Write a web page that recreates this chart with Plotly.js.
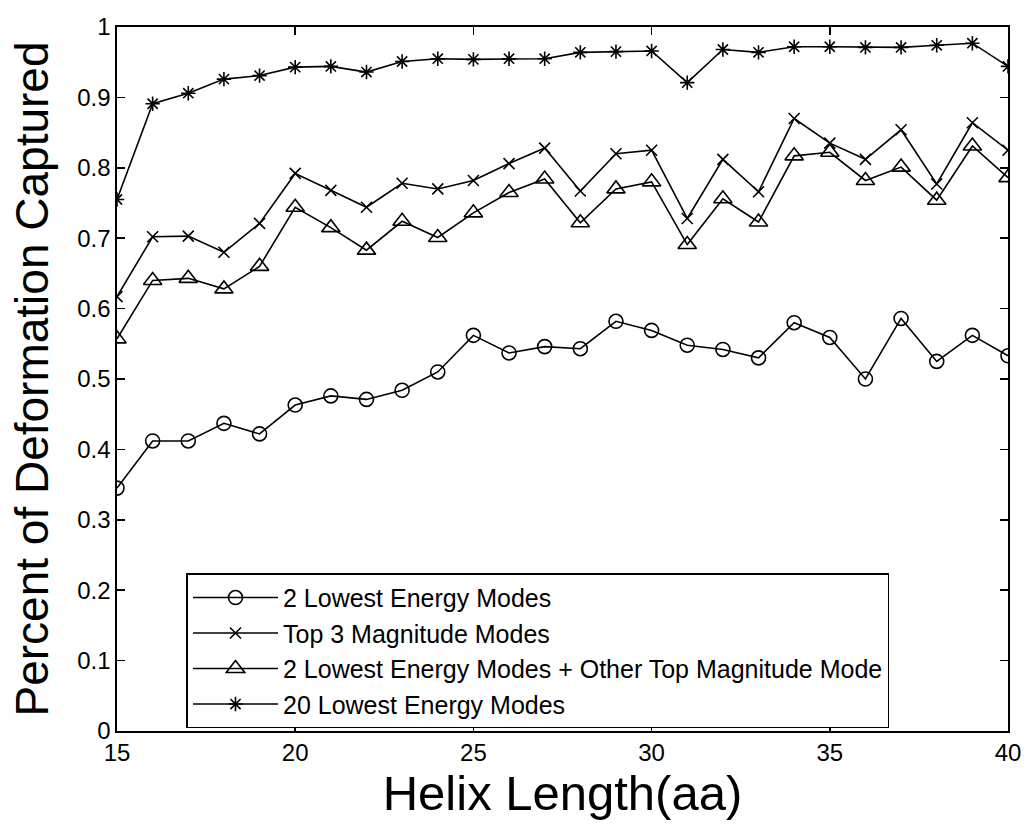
<!DOCTYPE html>
<html>
<head>
<meta charset="utf-8">
<script src="https://cdn.plot.ly/plotly-3.0.1.min.js"></script>
<style>html,body{margin:0;padding:0;background:#fff;}#chart{width:1029px;height:824px;}</style>
</head>
<body>
<div id="chart"></div>
<script>
var helixLength = [15,16,17,18,19,20,21,22,23,24,25,26,27,28,29,30,31,32,33,34,35,36,37,38,39,40];
var lowest2 = [0.345,0.412,0.412,0.437,0.422,0.463,0.476,0.471,0.484,0.510,0.562,0.537,0.546,0.543,0.582,0.569,0.548,0.542,0.530,0.580,0.559,0.500,0.586,0.525,0.562,0.533];
var top3 = [0.617,0.702,0.703,0.680,0.721,0.792,0.768,0.744,0.778,0.770,0.782,0.806,0.828,0.767,0.820,0.825,0.728,0.812,0.766,0.870,0.835,0.812,0.854,0.777,0.864,0.825];
var lowest2PlusTop = [0.557,0.640,0.643,0.628,0.660,0.744,0.715,0.683,0.724,0.701,0.736,0.765,0.784,0.722,0.770,0.780,0.691,0.756,0.723,0.817,0.822,0.782,0.801,0.754,0.831,0.786];
var lowest20 = [0.755,0.891,0.906,0.926,0.931,0.943,0.944,0.936,0.951,0.955,0.954,0.955,0.955,0.964,0.965,0.966,0.921,0.968,0.964,0.972,0.972,0.971,0.971,0.974,0.977,0.944];
var seriesNames = ["2 Lowest Energy Modes","Top 3 Magnitude Modes","2 Lowest Energy Modes + Other Top Magnitude Mode","20 Lowest Energy Modes"];
var xTicks = [15,20,25,30,35,40];
var yTicks = [0,0.1,0.2,0.3,0.4,0.5,0.6,0.7,0.8,0.9,1];
var yTickText = ["0","0.1","0.2","0.3","0.4","0.5","0.6","0.7","0.8","0.9","1"];

var seriesData = [lowest2, top3, lowest2PlusTop, lowest20];
var symbols = ["circle-open","x-thin-open","triangle-up-open","asterisk-open"];
var sizes = [14,11,16,12];
var traces = seriesData.map(function(d,i){
  return {
    x: helixLength, y: d, name: seriesNames[i], type: "scatter", mode: "lines+markers",
    line: {color: "#000", width: 1.6},
    marker: {symbol: symbols[i], size: sizes[i], color: "#000", line: {color: "#000", width: 1.6}}
  };
});

var font = "Liberation Sans, Arial, Helvetica, sans-serif";
var layout = {
  width: 1029, height: 824,
  margin: {l: 117, r: 21, t: 27, b: 93},
  paper_bgcolor: "#fff", plot_bgcolor: "#fff",
  font: {family: font, color: "#000", size: 24},
  showlegend: true,
  legend: {
    x: 0.078, y: 0.224, xanchor: "left", yanchor: "top",
    bgcolor: "#fff", bordercolor: "#000", borderwidth: 1.5,
    font: {family: font, size: 25, color: "#000"},
    traceorder: "normal", itemwidth: 85
  },
  xaxis: {
    range: [15, 40], tickvals: xTicks, ticks: "inside", ticklen: 8, tickwidth: 1.5, tickcolor: "#000",
    showline: true, linecolor: "#000", linewidth: 1.6, mirror: "allticks", showgrid: false, zeroline: false,
    tickfont: {family: font, size: 24},
    title: {text: "Helix Length(aa)", font: {family: font, size: 49}, standoff: 0}
  },
  yaxis: {
    range: [0, 1], tickvals: yTicks, ticktext: yTickText, ticks: "inside", ticklen: 8, tickwidth: 1.5, tickcolor: "#000",
    showline: true, linecolor: "#000", linewidth: 1.6, mirror: "allticks", showgrid: false, zeroline: false,
    tickfont: {family: font, size: 24},
    title: {text: "\u00a0\u00a0\u00a0\u00a0Percent of Deformation Captured", font: {family: font, size: 46}, standoff: 14}
  }
};
Plotly.newPlot("chart", traces, layout, {displayModeBar: false, staticPlot: true});
</script>
</body>
</html>
